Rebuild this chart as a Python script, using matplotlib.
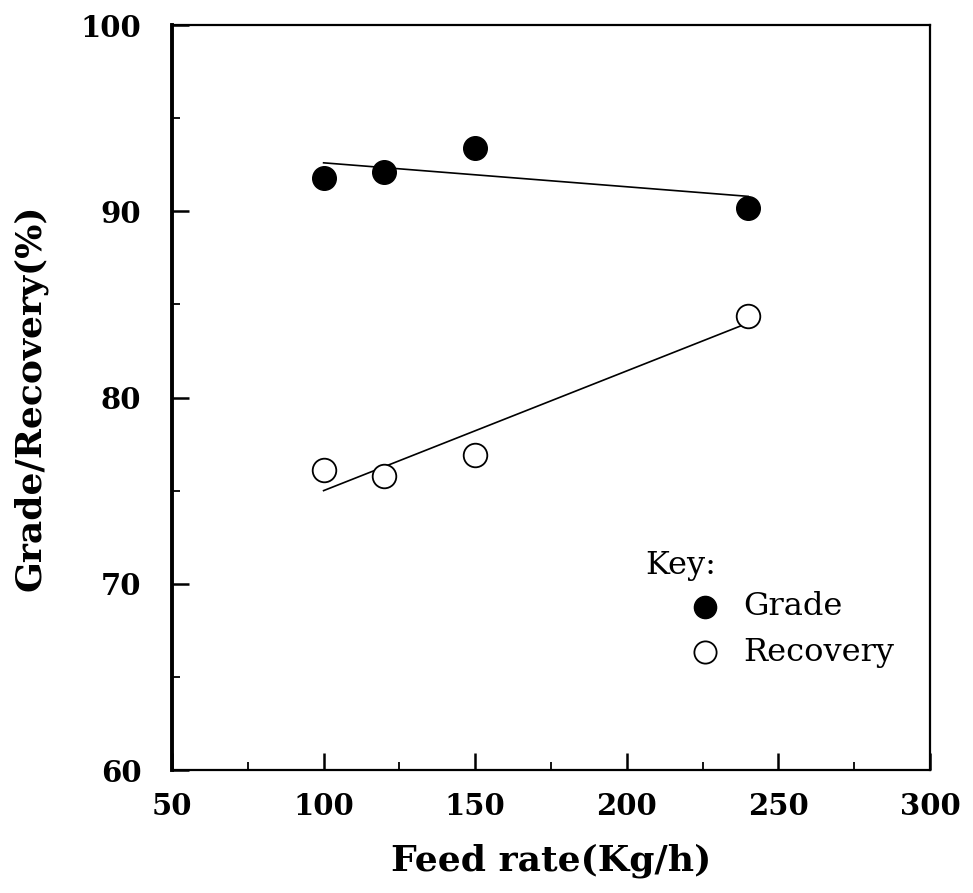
import matplotlib
matplotlib.use("Agg")
import matplotlib.pyplot as plt
from matplotlib.ticker import MultipleLocator

feed = [100, 120, 150, 240]
grade = [91.8, 92.1, 93.4, 90.2]
recovery = [76.1, 75.8, 76.9, 84.4]
fit_x = [100, 240]
grade_fit = [92.6, 90.8]
recovery_fit = [75.0, 84.0]
xticks = [50, 100, 150, 200, 250, 300]
yticks = [60, 70, 80, 90, 100]

plt.rcParams['font.family'] = ['DejaVu Serif', 'DejaVu Sans']

fig = plt.figure(figsize=(9.73, 8.93), dpi=100)
ax = fig.add_axes([172/973, 1-770/893, (930-172)/973, (770-25)/893])

ax.plot(fit_x, grade_fit, color='black', lw=1.2)
ax.plot(fit_x, recovery_fit, color='black', lw=1.2)
ax.plot(feed, grade, 'o', ms=17, mfc='black', mec='black')
ax.plot(feed, recovery, 'o', ms=17, mfc='white', mec='black', mew=1.3)

ax.set_xlim(50, 300)
ax.set_ylim(60, 100)
ax.set_xticks(xticks)
ax.set_yticks(yticks)
ax.xaxis.set_minor_locator(MultipleLocator(25))
ax.yaxis.set_minor_locator(MultipleLocator(5))
ax.tick_params(which='major', direction='in', length=12, width=1.8, labelsize=21)
ax.tick_params(which='minor', direction='in', length=6, width=1.3)
ax.tick_params(axis='x', which='major', pad=16)
ax.tick_params(axis='y', which='major', pad=22)
for lab in ax.get_xticklabels() + ax.get_yticklabels():
    lab.set_fontweight('bold')
for s in ax.spines.values():
    s.set_linewidth(1.6)
ax.spines['left'].set_linewidth(2.8)

ax.set_xlabel('Feed rate(Kg/h)', fontsize=26, fontweight='bold', labelpad=16)
ax.set_ylabel('Grade/Recovery(%)', fontsize=26, fontweight='bold', labelpad=24)

# key
ax.text(0.624, 0.275, 'Key:', transform=ax.transAxes, fontsize=23, va='center')
ax.plot([0.703], [0.219], 'o', ms=16, mfc='black', mec='black', transform=ax.transAxes, clip_on=False)
ax.text(0.753, 0.219, 'Grade', transform=ax.transAxes, fontsize=23, va='center')
ax.plot([0.703], [0.158], 'o', ms=16, mfc='white', mec='black', mew=1.3, transform=ax.transAxes, clip_on=False)
ax.text(0.753, 0.158, 'Recovery', transform=ax.transAxes, fontsize=23, va='center')

fig.savefig('out.png', dpi=100)
